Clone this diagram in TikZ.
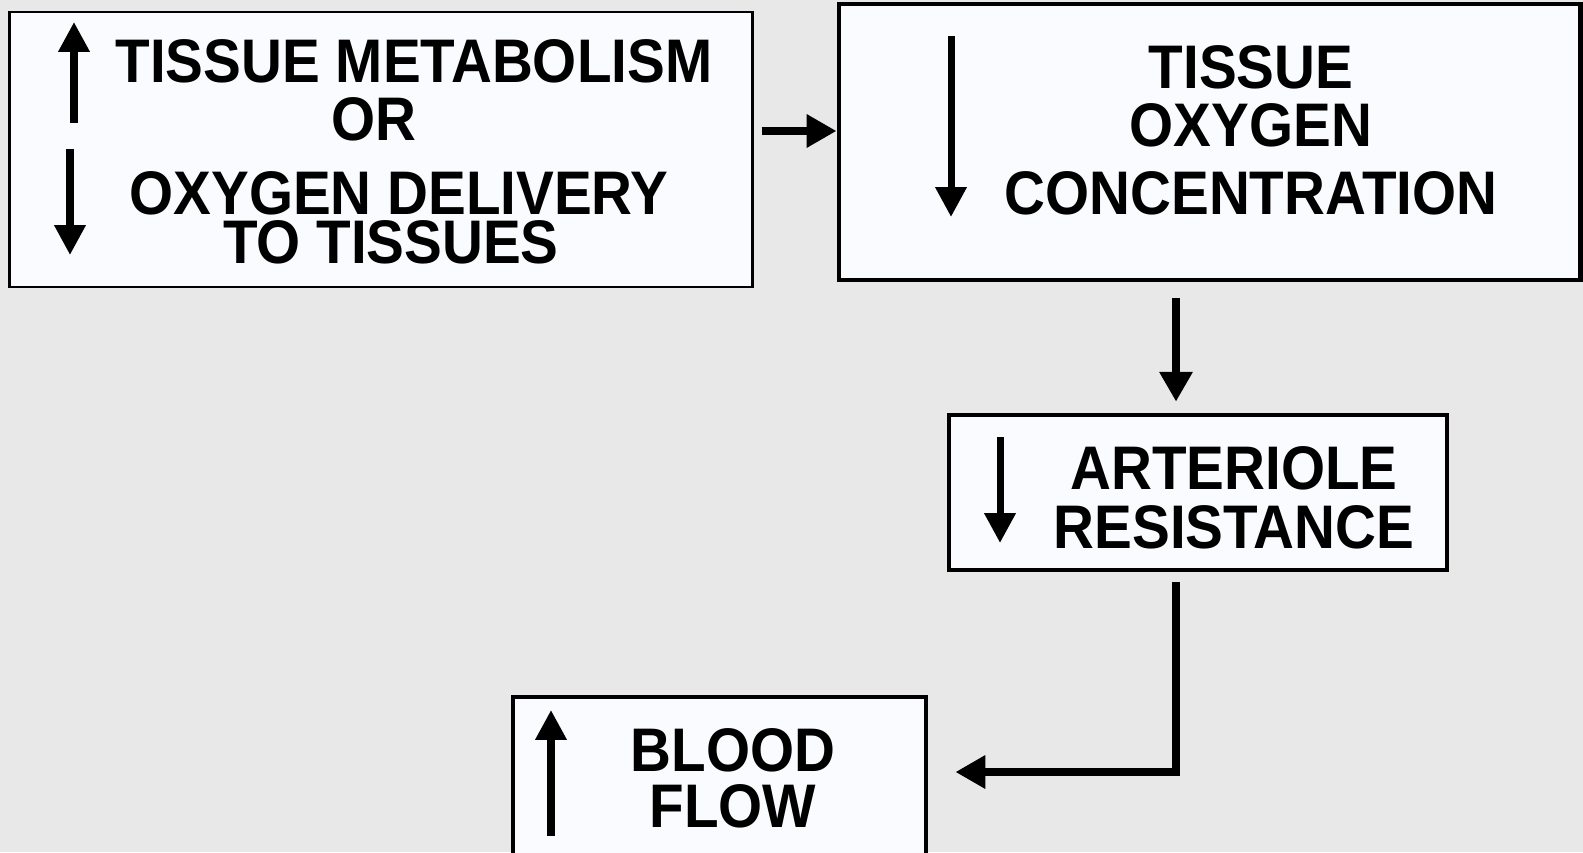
\documentclass[tikz,border=0pt]{standalone}
\usepackage{fontspec}
\setmainfont{Liberation Sans}
\newfontfamily\boxfont{Liberation Sans}[FakeStretch=0.92]
\usetikzlibrary{arrows.meta,calc}

\definecolor{paper}{RGB}{232,232,232}
\definecolor{boxwhite}{RGB}{250,251,255}

\tikzset{
  panel/.style={draw=black, fill=boxwhite, line width=1.3pt, inner sep=0pt},
  boxtext/.style={font=\boxfont\bfseries\fontsize{17.5}{16.5}\selectfont,
    align=center, inner sep=0pt, anchor=north},
  flow/.style={line width=2.4pt, -{Triangle[length=8.5pt,width=9pt]}},
  updown/.style={line width=2pt, -{Triangle[length=8.5pt,width=8.5pt]}}
}

\begin{document}
\begin{tikzpicture}[x=0.01cm,y=-0.01cm]
\useasboundingbox (0,0) rectangle (1583,852);
\fill[paper] (0,0) rectangle (1583,852);

%% Boxes
\node[panel, line width=0.8pt, minimum width=7.42cm, minimum height=2.75cm] (tom) at (381,149.5) {};
\node[panel, minimum width=7.41cm, minimum height=2.76cm] (toc) at (1209.5,142) {};
\node[panel, minimum width=4.98cm, minimum height=1.55cm] (aro) at (1198,492.5) {};
\node[panel, minimum width=4.13cm, minimum height=1.73cm] (bfl) at (719.5,783.5) {};

% texts
\node[boxtext] (tomtext) at (399,39) {\kern8.5pt TISSUE METABOLISM\\OR\kern14.2pt\\[4.55pt]OXYGEN DELIVERY\\[-2.7pt]TO TISSUES\kern4.6pt};
\node[boxtext] (toctext) at (1251,45) {TISSUE\\OXYGEN\\[2.85pt]CONCENTRATION};
\node[boxtext] (arotext) at (1234,446) {ARTERIOLE\\[0.3pt]RESISTANCE};
\node[boxtext] (bfltext) at (733,728) {BLOOD\\[-0.6pt]FLOW};

% up / down marks
\draw[updown] (74,123) -- (74,22);
\draw[updown] (70,149) -- (70,255);
\draw[updown] (951,36) -- (951,217);
\draw[updown] (1000,437) -- (1000,543);
\draw[updown] (551,836) -- (551,710);

%% Connectors
\coordinate (feed) at ($(tom.east)+(0,-18.5)$);
\draw[flow, shorten <=0.08cm] (feed) -- (feed -| toc.west);

\coordinate (drop) at ($(toc.south)+(-33.5,0)$);
\draw[flow, shorten <=0.16cm, shorten >=0.11cm] (drop) -- (drop |- aro.north);

\coordinate (turn) at ($(bfl.east)+(0,-11.5)$);
\draw[flow, shorten <=0.1cm, shorten >=0.27cm] (drop |- aro.south) |- (turn);

\end{tikzpicture}
\end{document}
